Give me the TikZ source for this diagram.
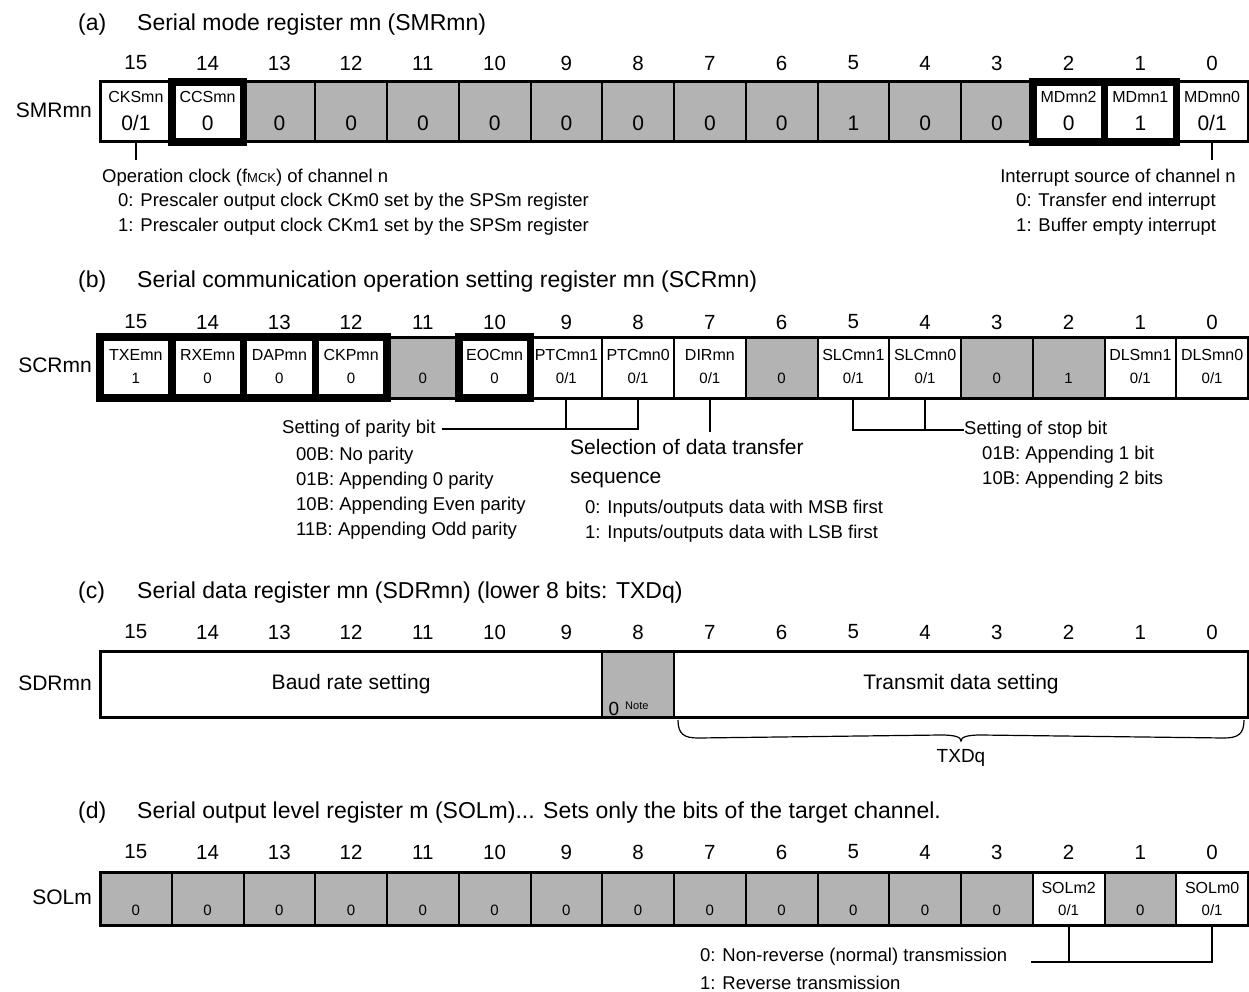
\documentclass[tikz,border=0pt]{standalone}
\usepackage{fontspec}
\setmainfont{Liberation Sans}
\definecolor{cellgray}{RGB}{179,179,179}
\newcommand\zeroone{0/1}
\begin{document}
\begin{tikzpicture}[x=1pt,y=-1pt,
  cell/.style={draw, line width=2pt, minimum width=71.75pt, inner sep=0pt, outer sep=0pt},
  ttl/.style={font=\fontsize{23}{26}\selectfont, anchor=west, inner sep=0pt},
  hdr/.style={font=\fontsize{20.5}{23}\selectfont, inner sep=0pt},
  reg/.style={font=\fontsize{21}{24}\selectfont, anchor=east, inner sep=0pt},
  nm/.style={font=\fontsize{16}{18}\selectfont, inner sep=0pt},
  vbig/.style={font=\fontsize{21}{24}\selectfont, inner sep=0pt},
  vsm/.style={font=\fontsize{15}{17}\selectfont, inner sep=0pt},
  txt/.style={font=\fontsize{18.5}{21}\selectfont, anchor=west, inner sep=0pt},
  big/.style={font=\fontsize{21}{24}\selectfont, inner sep=0pt},
  conn/.style={line width=2pt},
  thickframe/.style={line width=7.5pt},
  outerframe/.style={line width=3pt}]
\fill[white] (0,0) rectangle (1249,992);
\useasboundingbox (0,0) rectangle (1249,992);

% ---------------- (a) SMRmn
\node[ttl] (ta1) at (78,25) {(a)};
\node[ttl] (ta2) at (137,25) {Serial mode register mn (SMRmn)};
\node[reg] (ra) at (92,110) {SMRmn};
\foreach \b/\fl in {15/white,14/white,13/cellgray,12/cellgray,11/cellgray,10/cellgray,9/cellgray,8/cellgray,7/cellgray,6/cellgray,5/cellgray,4/cellgray,3/cellgray,2/white,1/white,0/white}{
  \pgfmathsetmacro\cx{135.875+(15-\b)*71.75}
  \node[cell, fill=\fl, minimum height=60pt] (a\b) at (\cx,112) {};
  \node[hdr] (ha\b) at (\cx,63) {\b};
}
\draw[outerframe] (a15.north west) rectangle (a0.south east);
\draw[thickframe] (a14.north west) rectangle (a14.south east);
\draw[thickframe] (a2.north west) rectangle (a1.south east);
\draw[thickframe] (a2.north east) -- (a2.south east);
\foreach \b/\v in {15/\zeroone,14/0,13/0,12/0,11/0,10/0,9/0,8/0,7/0,6/0,5/1,4/0,3/0,2/0,1/1,0/\zeroone}{
  \node[vbig] (va\b) at (a\b.center |- 0,123) {\v};
}
\foreach \b/\n in {15/CKSmn,14/CCSmn,2/MDmn2,1/MDmn1,0/MDmn0}{
  \node[nm] (na\b) at (a\b.center |- 0,97) {\n};
}
\coordinate (ka) at (a15.south |- 0,160);
\coordinate (kb) at (a0.south |- 0,160);
\draw[conn] (a15.south) -- (ka);
\draw[conn] (a0.south) -- (kb);
\node[txt] (opclk) at (102,178) {Operation clock (f{\fontsize{13}{15}\selectfont MCK}) of channel n};
\node[txt] (op0) at (118,202) {0: Prescaler output clock CKm0 set by the SPSm register};
\node[txt] (op1) at (118,227) {1: Prescaler output clock CKm1 set by the SPSm register};
\node[txt, anchor=east] (intr) at (1236,178) {Interrupt source of channel n};
\node[txt] (in0) at (1016,202) {0: Transfer end interrupt};
\node[txt] (in1) at (1016,227) {1: Buffer empty interrupt};

% ---------------- (b) SCRmn
\node[ttl] (tb1) at (78,282) {(b)};
\node[ttl] (tb2) at (137,282) {Serial communication operation setting register mn (SCRmn)};
\node[reg] (rb) at (92,365) {SCRmn};
\foreach \b/\fl in {15/white,14/white,13/white,12/white,11/cellgray,10/white,9/white,8/white,7/white,6/cellgray,5/white,4/white,3/cellgray,2/cellgray,1/white,0/white}{
  \pgfmathsetmacro\cx{135.875+(15-\b)*71.75}
  \node[cell, fill=\fl, minimum height=61pt] (s\b) at (\cx,367.5) {};
  \node[hdr] (hb\b) at (\cx,322) {\b};
}
\draw[outerframe] (s15.north west) rectangle (s0.south east);
\draw[thickframe] (s15.north west) rectangle (s12.south east);
\foreach \b in {15,14,13}{\draw[thickframe] (s\b.north east) -- (s\b.south east);}
\draw[thickframe] (s10.north west) rectangle (s10.south east);
\foreach \b/\v in {15/1,14/0,13/0,12/0,11/0,10/0,9/\zeroone,8/\zeroone,7/\zeroone,6/0,5/\zeroone,4/\zeroone,3/0,2/1,1/\zeroone,0/\zeroone}{
  \node[vsm] (vb\b) at (s\b.center |- 0,378) {\v};
}
\foreach \b/\n in {15/TXEmn,14/RXEmn,13/DAPmn,12/CKPmn,10/EOCmn,9/PTCmn1,8/PTCmn0,7/DIRmn,5/SLCmn1,4/SLCmn0,1/DLSmn1,0/DLSmn0}{
  \node[nm] (nb\b) at (s\b.center |- 0,355) {\n};
}
% parity
\node[txt] (par) at (282,429) {Setting of parity bit};
\draw[conn] ([xshift=6pt]par.east) -- (s8.south |- par.east) -- (s8.south);
\draw[conn] (s9.south) -- (s9.south |- par.east);
\node[txt] (p0) at (296,456) {00B: No parity};
\node[txt] (p1) at (296,481) {01B: Appending 0 parity};
\node[txt] (p2) at (296,506) {10B: Appending Even parity};
\node[txt] (p3) at (296,531) {11B: Appending Odd parity};
% direction
\coordinate (dj) at (s7.south |- 0,432);
\draw[conn] (s7.south) -- (dj);
\node[big, anchor=west] (sel) at (570,447) {Selection of data transfer};
\node[big, anchor=west] (seq) at (570,480) {sequence};
\node[txt] (d0) at (585,509) {0: Inputs/outputs data with MSB first};
\node[txt] (d1) at (585,534) {1: Inputs/outputs data with LSB first};
% stop bit
\node[txt] (stp) at (964,430) {Setting of stop bit};
\draw[conn] (s5.south) -- (s5.south |- stp.west) -- (stp.west);
\draw[conn] (s4.south) -- (s4.south |- stp.west);
\node[txt] (st0) at (982,455) {01B: Appending 1 bit};
\node[txt] (st1) at (982,480) {10B: Appending 2 bits};

% ---------------- (c) SDRmn
\node[ttl] (tc1) at (78,593) {(c)};
\node[ttl] (tc2) at (137,593) {Serial data register mn (SDRmn) (lower 8 bits: TXDq)};
\node[reg] (rc) at (92,683) {SDRmn};
\foreach \b in {15,...,0}{
  \pgfmathsetmacro\cx{135.875+(15-\b)*71.75}
  \node[hdr] (hc\b) at (\cx,632) {\b};
}
\node[cell, minimum width=502.25pt, minimum height=66pt, font=\fontsize{21}{24}\selectfont] (baud) at (351.125,684) {Baud rate setting};
\node[cell, fill=cellgray, minimum height=66pt] (c8) at (638.125,684) {};
\node[cell, minimum width=574pt, minimum height=66pt, font=\fontsize{21}{24}\selectfont] (tx) at (961,684) {Transmit data setting};
\draw[outerframe] (baud.north west) rectangle (tx.south east);
\node[font=\fontsize{19}{21}\selectfont, inner sep=0pt] (c8v) at (614,709) {0};
\node[font=\fontsize{11}{13}\selectfont, inner sep=0pt, anchor=west] (c8n) at (625,706) {Note};
\draw[line width=1.2pt] ([xshift=4pt,yshift=-3pt]tx.south west) .. controls +(0,14) and +(-14,0) .. +(20,18) coordinate (br1)
  -- ([xshift=-20pt,yshift=-18pt]tx.south) .. controls +(14,0) and +(0,-4) .. ([yshift=-24pt]tx.south) coordinate (brt)
  .. controls +(0,-4) and +(-14,0) .. ([xshift=20pt,yshift=-18pt]tx.south)
  -- ([xshift=-24pt,yshift=-21pt]tx.south east) .. controls +(14,0) and +(0,14) .. ([xshift=-4pt,yshift=-3pt]tx.south east);
\node[font=\fontsize{19}{21}\selectfont, inner sep=0pt] (txdq) at (961,758) {TXDq};

% ---------------- (d) SOLm
\node[ttl] (td1) at (78,813) {(d)};
\node[ttl] (td2) at (137,813) {Serial output level register m (SOLm)... Sets only the bits of the target channel.};
\node[reg] (rd) at (92,897) {SOLm};
\foreach \b/\fl in {15/cellgray,14/cellgray,13/cellgray,12/cellgray,11/cellgray,10/cellgray,9/cellgray,8/cellgray,7/cellgray,6/cellgray,5/cellgray,4/cellgray,3/cellgray,2/white,1/cellgray,0/white}{
  \pgfmathsetmacro\cx{135.875+(15-\b)*71.75}
  \node[cell, fill=\fl, minimum height=53pt] (o\b) at (\cx,898.5) {};
  \node[hdr] (hd\b) at (\cx,852) {\b};
}
\draw[outerframe] (o15.north west) rectangle (o0.south east);
\foreach \b/\v in {15/0,14/0,13/0,12/0,11/0,10/0,9/0,8/0,7/0,6/0,5/0,4/0,3/0,2/\zeroone,1/0,0/\zeroone}{
  \node[vsm] (vd\b) at (o\b.center |- 0,910) {\v};
}
\foreach \b/\n in {2/SOLm2,0/SOLm0}{
  \node[nm] (nd\b) at (o\b.center |- 0,888) {\n};
}
\node[txt] (nr0) at (700,957) {0: Non-reverse (normal) transmission};
\node[txt] (nr1) at (700,983) {1: Reverse transmission};
\coordinate (ol) at ([xshift=24pt,yshift=-5pt]nr0.east);
\draw[conn] (ol) -- (o2.south |- ol) -- (o0.south |- ol) -- (o0.south);
\draw[conn] (o2.south) -- (o2.south |- ol);
\end{tikzpicture}
\end{document}
